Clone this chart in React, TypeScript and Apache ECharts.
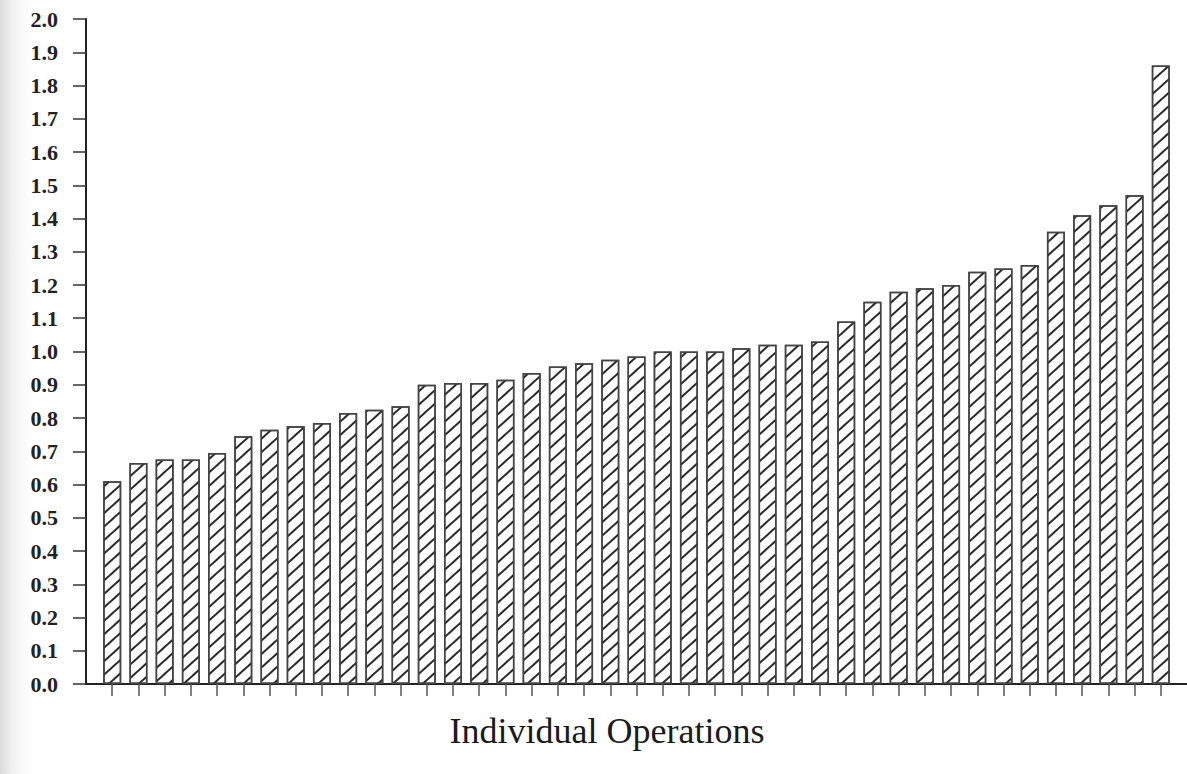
import React, { useEffect, useRef } from "react";
import * as echarts from "echarts";

// ---- data ----
const operations: string[] = Array.from({ length: 41 }, (_, i) => `Op ${i + 1}`);
const ratios: number[] = [
  0.61, 0.665, 0.675, 0.675, 0.695, 0.745, 0.765, 0.775, 0.785, 0.815,
  0.825, 0.835, 0.9, 0.905, 0.905, 0.915, 0.935, 0.955, 0.965, 0.975,
  0.985, 1.0, 1.0, 1.0, 1.01, 1.02, 1.02, 1.03, 1.09, 1.15,
  1.18, 1.19, 1.2, 1.24, 1.25, 1.26, 1.36, 1.41, 1.44, 1.47,
  1.86,
];
const yTicks = { min: 0, max: 2, interval: 0.1 };
const xTitle = "Individual Operations";

export default function App() {
  const ref = useRef<HTMLDivElement>(null);

  useEffect(() => {
    document.body.style.margin = "0";
    if (!ref.current) return;
    const chart = echarts.init(ref.current, undefined, { renderer: "svg" });

    // padded category axis: empty slot at each end so bars sit on the tick points
    const cats = ["", ...operations, ""];
    const values: (number | string)[] = ["-", ...ratios, "-"];

    chart.setOption({
      animation: false,
      backgroundColor: "#ffffff",
      grid: { left: 86, right: 0, top: 19, bottom: 90, containLabel: false },
      xAxis: {
        type: "category",
        data: cats,
        boundaryGap: false,
        axisLine: { show: true, lineStyle: { color: "#222", width: 2 } },
        axisTick: {
          show: true,
          length: 12,
          interval: (index: number) => index >= 1 && index <= operations.length,
          lineStyle: { color: "#555", width: 1.5 },
        },
        axisLabel: { show: false },
        splitLine: { show: false },
      },
      yAxis: {
        type: "value",
        min: yTicks.min,
        max: yTicks.max,
        interval: yTicks.interval,
        axisLine: { show: true, lineStyle: { color: "#222", width: 2 } },
        axisTick: { show: true, length: 13, lineStyle: { color: "#333", width: 1.5 } },
        axisLabel: {
          margin: 28,
          formatter: (v: number) => v.toFixed(1),
          fontFamily: "Liberation Serif",
          fontSize: 22,
          fontWeight: "bold",
          color: "#222",
        },
        splitLine: { show: false },
      },
      series: [
        {
          type: "bar",
          data: values,
          barWidth: 18,
          itemStyle: {
            color: "#ffffff",
            borderColor: "#444",
            borderWidth: 1.5,
            decal: {
              symbol: "rect",
              dashArrayX: [1, 0],
              dashArrayY: [2, 7.6],
              rotation: (-42 * Math.PI) / 180,
              color: "#2a2a2a",
              backgroundColor: "#ffffff",
            },
          },
        },
      ],
      graphic: [
        {
          type: "rect",
          z: -10,
          shape: { x: 0, y: 0, width: 42, height: 774 },
          style: {
            fill: new echarts.graphic.LinearGradient(0, 0, 1, 0, [
              { offset: 0, color: "rgba(215,215,215,0.9)" },
              { offset: 0.3, color: "rgba(235,235,235,0.7)" },
              { offset: 1, color: "rgba(255,255,255,0)" },
            ]),
          },
          silent: true,
        },
        {
          type: "text",
          x: 607,
          y: 731,
          style: {
            text: xTitle,
            fontFamily: "Liberation Serif",
            fontSize: 36,
            fill: "#1a1a1a",
            align: "center",
            verticalAlign: "middle",
          },
        },
      ],
    });

    return () => chart.dispose();
  }, []);

  return <div ref={ref} style={{ width: 1187, height: 774 }} />;
}
